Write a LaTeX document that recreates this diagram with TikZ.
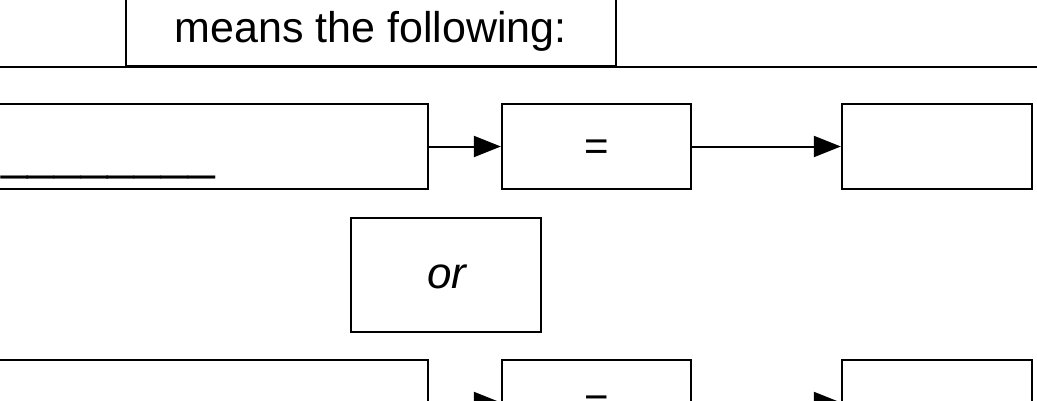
\documentclass[tikz,border=0pt]{standalone}
\usepackage{fontspec}
\setmainfont{Liberation Sans}
\usetikzlibrary{arrows.meta}
\begin{document}
\begin{tikzpicture}[x=1pt,y=1pt,
  box/.style={draw=black,line width=2.2pt,fill=white,inner sep=0pt,
    minimum width=#1,minimum height=85pt},
  lbl/.style={inner sep=0pt,font=\fontsize{42}{50}\selectfont},
  conn/.style={line width=2pt,-{Triangle[length=27pt,width=21pt]}}]
\useasboundingbox (0,0) rectangle (1037,400);
% top header
\coordinate (hl) at (-20,333);
\coordinate (hr) at (1060,333);
\draw[line width=2.2pt] (hl) -- (hr);
\node[box=490pt,minimum height=110pt,anchor=south] (head) at (371,333) {};
\node[lbl,anchor=base,font=\fontsize{43}{50}\selectfont] (headtxt) at (370.5,357) {means the following:};
% row 1
\node[box=448pt] (a1) at (204,253.5) {};
\node[inner sep=0pt,anchor=base west,font=\fontsize{48}{50}\selectfont] (u1) at (1,231) {\_\_\_\_\_\_\_\_};
\node[box=189pt] (b1) at (596.5,253.5) {};
\node[lbl] (eq1) at (596.5,250) {=};
\node[box=190pt] (c1) at (937,253.5) {};
\draw[conn] (a1.east) -- (b1.west);
\draw[conn] (b1.east) -- (c1.west);
% or
\node[box=190pt,minimum height=114pt] (or) at (446,125) {};
\node[lbl,font=\fontsize{44}{50}\selectfont\itshape] (ortxt) at (447,123) {or};
% row 3
\node[box=448pt] (a3) at (204,-2.5) {};
\node[box=189pt] (b3) at (596.5,-2.5) {};
\node[lbl] (eq3) at (596.5,-6) {=};
\node[box=190pt] (c3) at (937,-2.5) {};
\draw[conn] (a3.east) -- (b3.west);
\draw[conn] (b3.east) -- (c3.west);
\end{tikzpicture}
\end{document}
